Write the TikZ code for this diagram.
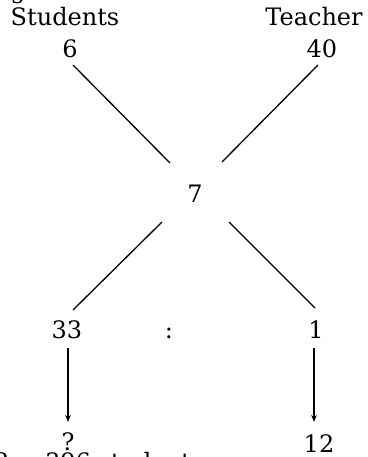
\documentclass[tikz,border=0pt]{standalone}
\usepackage{fontspec}
\setmainfont{DejaVu Serif}
\usetikzlibrary{arrows.meta}

\begin{document}
\begin{tikzpicture}[x=1pt,y=-1pt,
    lbl/.style={inner sep=0pt,anchor=base,font=\fontsize{24}{28}\selectfont},
    link/.style={line width=1.3pt,black},
    down/.style={line width=1.3pt,black,-{Stealth[length=7pt,width=5.5pt]}}]
  \useasboundingbox (0,0) rectangle (367,457);

  % headings and the given numbers
  \node[lbl] (gtail) at (18,-1.5) {g};
  \node[lbl] (stu)   at (65,26)  {Students};
  \node[lbl] (teach) at (314,26) {Teacher};
  \node[lbl] (six)   at (70,58)  {6};
  \node[lbl] (forty) at (322,58) {40};
  \node[lbl] (seven) at (195,202) {7};
  \node[lbl] (t33)   at (67,338) {33};
  \node[lbl] (colon) at (169,338) {:};
  \node[lbl] (one)   at (316,338) {1};
  \node[lbl] (q)     at (68,450) {?};
  \node[lbl] (twelve) at (319,452) {12};
  \node[lbl,anchor=base west] (ans) at (-5,470.5)
    {?\hspace{9pt}=\hspace{8pt}396 students};

  % cross of the alligation
  \draw[link] ([shift={(3,7)}]six.base)    -- ([shift={(-25,-39)}]seven.base);
  \draw[link] ([shift={(-4,7)}]forty.base) -- ([shift={(27,-40)}]seven.base);
  \draw[link] ([shift={(-33,20)}]seven.base) -- ([shift={(6,-28)}]t33.base);
  \draw[link] ([shift={(34,20)}]seven.base)  -- ([shift={(-1,-30)}]one.base);

  % scaling arrows
  \draw[down] ([shift={(1,10)}]t33.base) -- ([shift={(0,-28)}]q.base);
  \draw[down] ([shift={(-2,10)}]one.base) -- ([shift={(-5,-30)}]twelve.base);
\end{tikzpicture}
\end{document}
